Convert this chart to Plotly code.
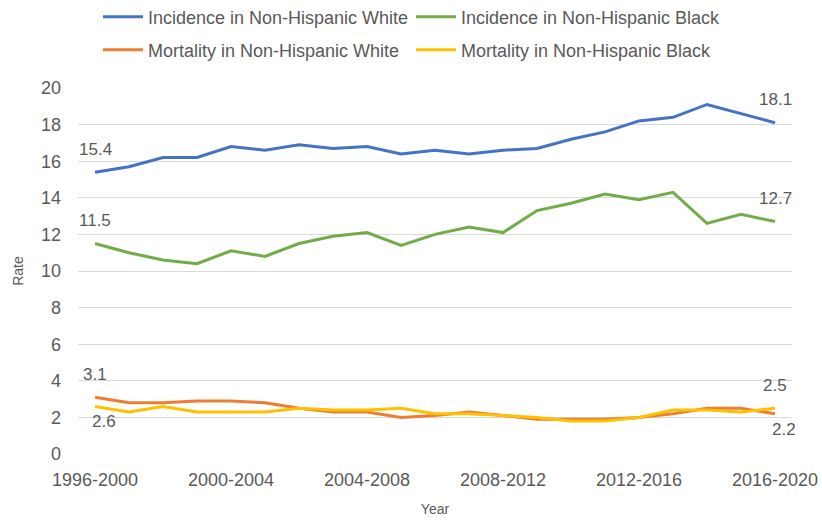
import plotly.graph_objects as go

years = [f"{y}-{y+4}" for y in range(1996, 2017)]
tick_labels = ["1996-2000", "2000-2004", "2004-2008", "2008-2012", "2012-2016", "2016-2020"]

inc_white = [15.4, 15.7, 16.2, 16.2, 16.8, 16.6, 16.9, 16.7, 16.8, 16.4, 16.6,
             16.4, 16.6, 16.7, 17.2, 17.6, 18.2, 18.4, 19.1, 18.6, 18.1]
inc_black = [11.5, 11.0, 10.6, 10.4, 11.1, 10.8, 11.5, 11.9, 12.1, 11.4, 12.0,
             12.4, 12.1, 13.3, 13.7, 14.2, 13.9, 14.3, 12.6, 13.1, 12.7]
mort_white = [3.1, 2.8, 2.8, 2.9, 2.9, 2.8, 2.5, 2.3, 2.3, 2.0, 2.1,
              2.3, 2.1, 1.9, 1.9, 1.9, 2.0, 2.2, 2.5, 2.5, 2.2]
mort_black = [2.6, 2.3, 2.6, 2.3, 2.3, 2.3, 2.5, 2.4, 2.4, 2.5, 2.2,
              2.2, 2.1, 2.0, 1.8, 1.8, 2.0, 2.4, 2.4, 2.3, 2.5]

FONT = "Liberation Sans"
GREY = "#595959"

series = [
    ("Incidence in Non-Hispanic White", inc_white, "#4472C4", "legend"),
    ("Incidence in Non-Hispanic Black", inc_black, "#70AD47", "legend"),
    ("Mortality in Non-Hispanic White", mort_white, "#ED7D31", "legend2"),
    ("Mortality in Non-Hispanic Black", mort_black, "#FFC000", "legend2"),
]

fig = go.Figure()
for name, vals, color, lg in series:
    fig.add_trace(go.Scatter(x=years, y=vals, mode="lines", name=name,
                             line=dict(color=color, width=3), legend=lg))

# data labels: (series values, index, yshift, xshift)
labels = [
    (inc_white, 0, 23, 0), (inc_white, -1, 23, 0),
    (inc_black, 0, 23, 0), (inc_black, -1, 23, 0),
    (mort_white, 0, 23, 0), (mort_white, -1, -16, 9),
    (mort_black, 0, -15, 9), (mort_black, -1, 23, 0),
]
for vals, i, ys, xs in labels:
    fig.add_annotation(x=years[i], y=vals[i], text=f"{vals[i]:.1f}", showarrow=False,
                       yshift=ys, xshift=xs, font=dict(size=17, color=GREY, family=FONT))

leg_common = dict(orientation="h", xanchor="left", yanchor="middle",
                  entrywidth=258, entrywidthmode="pixels",
                  font=dict(size=18, color=GREY), bgcolor="rgba(0,0,0,0)",
                  itemwidth=40, tracegroupgap=0)

fig.update_layout(
    width=822, height=521,
    margin=dict(l=78, r=30, t=88, b=67, autoexpand=False),
    paper_bgcolor="white", plot_bgcolor="white",
    font=dict(family=FONT, size=18, color=GREY),
    legend=dict(x=0.028, y=1.194, **leg_common),
    legend2=dict(x=0.028, y=1.104, **leg_common),
    xaxis=dict(type="category", range=[-0.5, 20.5], tickmode="array",
               tickvals=tick_labels, ticktext=tick_labels, showgrid=False,
               showline=False, ticks="", ticklabelstandoff=13,
               tickfont=dict(size=18, color=GREY),
               title=dict(text="Year", font=dict(size=14, color=GREY), standoff=15)),
    yaxis=dict(range=[0, 20], dtick=2, showgrid=True, gridcolor="#D9D9D9", gridwidth=1,
               zeroline=False, showline=False, ticks="", ticklabelstandoff=16,
               tickfont=dict(size=18, color=GREY),
               title=dict(text="Rate", font=dict(size=14, color=GREY), standoff=14)),
)

fig.write_html("out.html")
